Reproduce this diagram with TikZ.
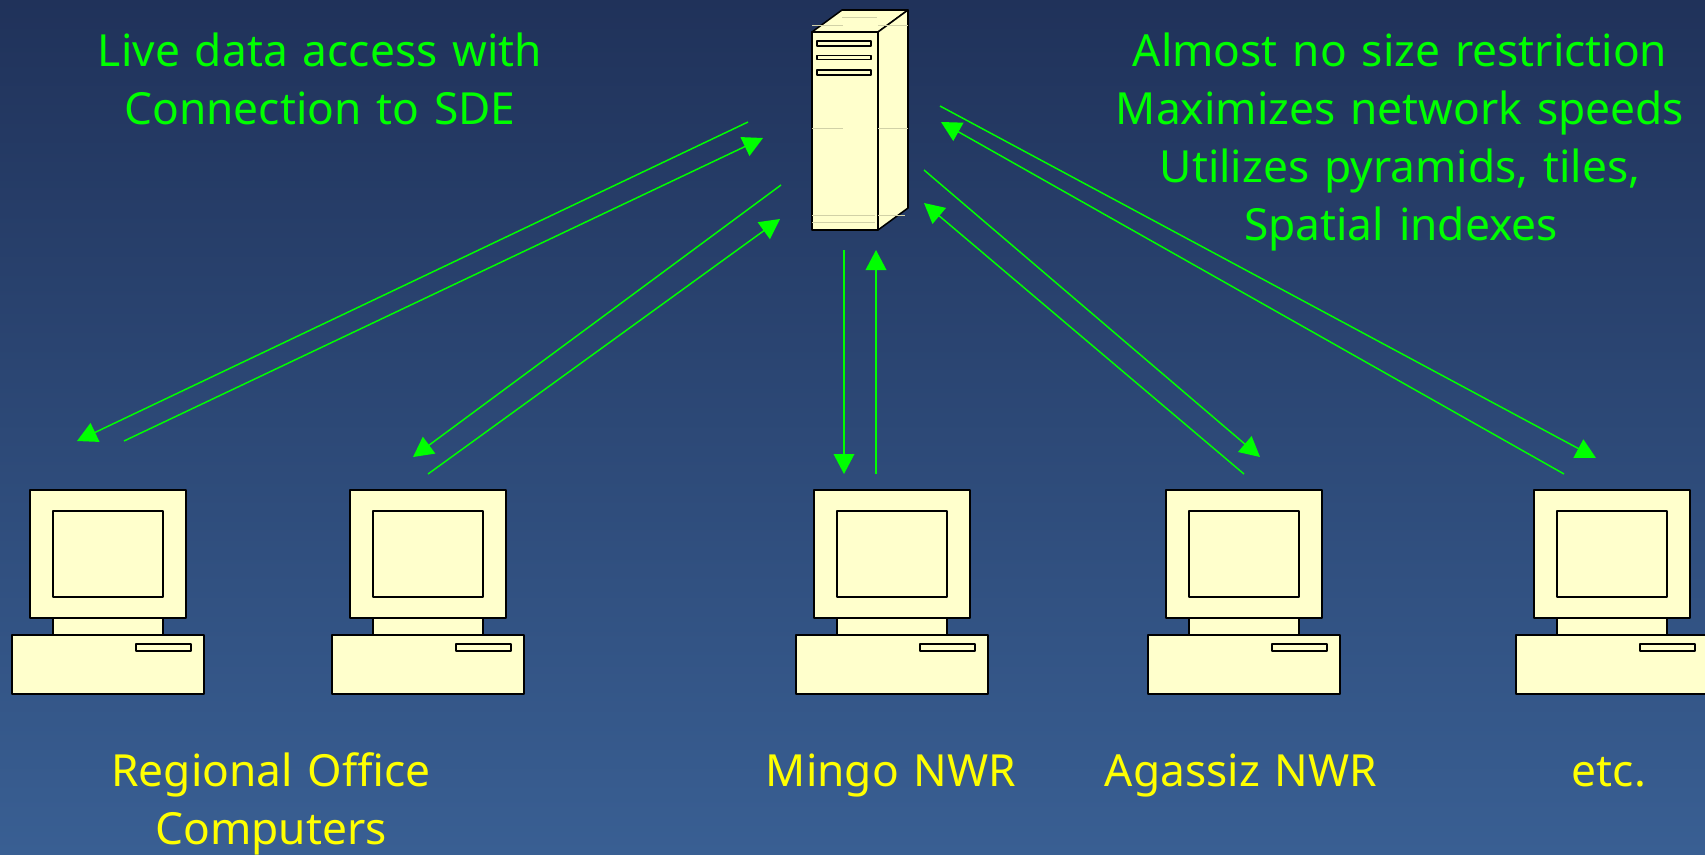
\documentclass[tikz,border=0pt]{standalone}
\usepackage{fontspec}
\setmainfont[WordSpace=1.3]{Noto Sans}
\usetikzlibrary{arrows.meta}
\definecolor{bgtop}{RGB}{32,50,90}
\definecolor{bgbot}{RGB}{57,95,147}
\definecolor{cream}{RGB}{255,255,204}
\definecolor{lime}{RGB}{0,255,0}
\definecolor{yel}{RGB}{255,255,0}
\tikzset{
  x=0.75pt,y=-0.75pt,
  kit/.style={draw=black,fill=cream,line width=1.15pt,line join=round},
  thin kit/.style={draw=black,fill=cream,line width=1pt,line join=round},
  faint/.style={draw=black!18!cream,line width=0.35pt},
  link/.style={draw=lime,line width=1.1pt,-{Triangle[length=15pt,width=15.5pt]},shorten >=0pt},
  bodytext/.style={font=\fontsize{33.2pt}{43.5pt}\selectfont,align=center,inner sep=0pt,anchor=base},
  computer/.pic={
    \draw[kit] (30,490) rectangle (186,618);
    \draw[thin kit] (53,511) rectangle (163,597);
    \draw[kit] (53,618) rectangle (163,635);
    \draw[kit] (12,635) rectangle (204,694);
    \draw[thin kit] (136,644) rectangle (191,651);
  }
}
\begin{document}
\begin{tikzpicture}
\useasboundingbox (0,0) rectangle (1705,854);
\shade[top color=bgtop,bottom color=bgbot] (0,0) rectangle (1705,854);
% server
\draw[kit] (812,32) -- (842,10) -- (908,10) -- (878,32) -- cycle;
\draw[kit] (878,32) -- (908,10) -- (908,208) -- (878,230) -- cycle;
\draw[kit] (812,32) rectangle (878,230);
\draw[faint] (842,17) -- (877,17) (812,25) -- (843,25) (878,25) -- (908,25);
\draw[faint] (812,128) -- (843,128) (878,128) -- (908,128);
\draw[faint] (812,215) -- (875,215) (812,222) -- (875,222) (878,215) -- (905,215);
\draw[thin kit] (817,41) rectangle (871,46);
\draw[thin kit] (817,55.5) rectangle (871,59.5);
\draw[thin kit] (817,70) rectangle (871,75);
% computers
\pic at (0,0) {computer};
\pic at (320,0) {computer};
\pic at (784,0) {computer};
\pic at (1136,0) {computer};
\pic at (1504,0) {computer};
% connector ends
\coordinate (a1) at (748,122); \coordinate (a2) at (77,441);
\coordinate (b1) at (124,441); \coordinate (b2) at (763,138);
\coordinate (c1) at (781,185); \coordinate (c2) at (413,457);
\coordinate (d1) at (428,474); \coordinate (d2) at (780,219);
\coordinate (e1) at (844,250); \coordinate (e2) at (844,474);
\coordinate (f1) at (876,474); \coordinate (f2) at (876,250);
\coordinate (g1) at (924,170); \coordinate (g2) at (1260,457);
\coordinate (h1) at (1244,474); \coordinate (h2) at (924,203);
\coordinate (i1) at (940,106); \coordinate (i2) at (1596,458);
\coordinate (j1) at (1564,474); \coordinate (j2) at (941,122);
\foreach \s/\t in {a1/a2,b1/b2,c1/c2,d1/d2,e1/e2,f1/f2,g1/g2,h1/h2,i1/i2,j1/j2}
  \draw[link] (\s) -- (\t);
% labels
\node[bodytext,text=lime] (live1) at (320,66.5) {Live data access with};
\node[bodytext,text=lime] (live2) at (320,124.5) {Connection to SDE};
\node[bodytext,text=lime] (almost) at (1400,66.5) {Almost no size restriction};
\node[bodytext,text=lime] (maxi) at (1400,124.5) {Maximizes network speeds};
\node[bodytext,text=lime] (util) at (1400,182.5) {Utilizes pyramids, tiles,};
\node[bodytext,text=lime] (spat) at (1401,240.5) {Spatial indexes};
\node[bodytext,text=yel] (reg) at (271,786.5) {Regional Office};
\node[bodytext,text=yel] (comp) at (271,844.5) {Computers};
\node[bodytext,text=yel] (mingo) at (891,786.5) {Mingo NWR};
\node[bodytext,text=yel] (aga) at (1241,786.5) {Agassiz NWR};
\node[bodytext,text=yel] (etc) at (1609,786.5) {etc.};
\end{tikzpicture}
\end{document}
